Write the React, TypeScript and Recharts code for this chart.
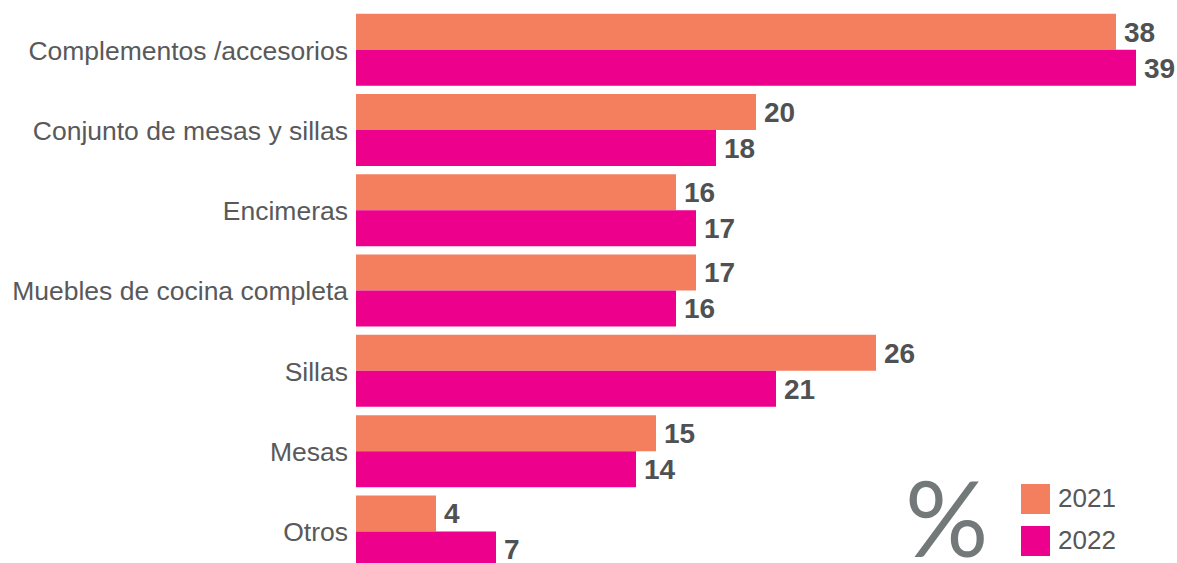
import React from 'react'
import { BarChart, Bar, XAxis, YAxis, LabelList } from 'recharts'

const categories = [
  'Complementos /accesorios',
  'Conjunto de mesas y sillas',
  'Encimeras',
  'Muebles de cocina completa',
  'Sillas',
  'Mesas',
  'Otros',
]
const values2021 = [38, 20, 16, 17, 26, 15, 4]
const values2022 = [39, 18, 17, 16, 21, 14, 7]
const seriesNames = ['2021', '2022']
const COLORS = ['#F47F5E', '#EC008C']

const data = categories.map((name, i) => ({ name, y2021: values2021[i], y2022: values2022[i] }))

const font = '"Liberation Sans", Arial, Helvetica, sans-serif'

// legend with the big % sign, sits over the bottom right of the plot
function LegendBox() {
  return (
    <div style={{ position: 'absolute', left: 905, top: 483, width: 260, height: 80, fontFamily: font }}>
      <div style={{ position: 'absolute', left: 0, top: -18, fontSize: 104, color: '#737879', fontFamily: 'Lato, sans-serif', lineHeight: 1 }}>%</div>
      {seriesNames.map((s, i) => (
        <div key={s} style={{ position: 'absolute', left: 116, top: i * 42, display: 'flex', alignItems: 'center' }}>
          <div style={{ width: 29, height: 30, background: COLORS[i] }} />
          <span style={{ marginLeft: 8, fontSize: 26, color: '#555759' }}>{s}</span>
        </div>
      ))}
    </div>
  )
}

export default function App() {
  return (
    <div style={{ position: 'absolute', left: 0, top: 0, width: 1177, height: 563, overflow: 'hidden', background: '#fff' }}>
      <BarChart width={1177} height={572} data={data} layout="vertical"
        margin={{ top: 10, right: 21, bottom: 0, left: 0 }} barCategoryGap={3.7} barGap={0}>
        <XAxis type="number" domain={[0, 40]} hide />
        <YAxis type="category" dataKey="name" width={356} axisLine={false} tickLine={false}
          tick={{ fontSize: 26.5, fill: '#58595B', fontFamily: font }} />
        <Bar dataKey="y2021" name="2021" fill={COLORS[0]} isAnimationActive={false}>
          <LabelList dataKey="y2021" position="right" offset={8}
            style={{ fontSize: 28, fontWeight: 700, fill: '#505152', fontFamily: font }} />
        </Bar>
        <Bar dataKey="y2022" name="2022" fill={COLORS[1]} isAnimationActive={false}>
          <LabelList dataKey="y2022" position="right" offset={8}
            style={{ fontSize: 28, fontWeight: 700, fill: '#505152', fontFamily: font }} />
        </Bar>
      </BarChart>
      <LegendBox />
    </div>
  )
}
